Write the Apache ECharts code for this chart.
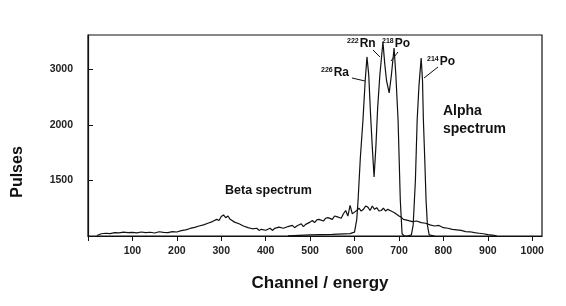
<!DOCTYPE html>
<html><head><meta charset="utf-8">
<script src="https://cdn.jsdelivr.net/npm/echarts@6/dist/echarts.min.js"></script>
<style>html,body{margin:0;padding:0;background:#fff}#c{width:566px;height:306px}</style>
</head><body><div id="c"></div>
<script>
// ---- data (pulses vs channel) ----
const betaChannels = [20,30,40,50,60,70,80,90,100,110,120,130,140,150,160,170,180,190,200,210,220,230,240,250,260,270,280,290,295,300,305,310,315,320,330,340,350,360,370,380,385,390,400,410,415,420,430,440,450,460,465,470,480,485,490,500,505,510,515,520,530,535,540,550,555,560,570,575,580,585,590,595,600,605,610,615,620,625,630,635,640,645,650,655,660,665,670,675,680,690,700,705,710,720,730,740,750,760,770,780,790,800,810,820,830,840,850,860,870,880,890,900,910,920];
const betaPulses   = [1005,1020,1025,1022,1030,1028,1035,1030,1032,1028,1036,1030,1034,1027,1038,1032,1030,1040,1036,1048,1055,1068,1078,1090,1100,1115,1130,1150,1140,1175,1190,1165,1180,1150,1125,1110,1090,1075,1065,1070,1050,1060,1052,1070,1050,1068,1080,1070,1085,1095,1075,1090,1110,1085,1105,1125,1140,1120,1145,1150,1135,1160,1165,1150,1180,1175,1160,1200,1230,1180,1275,1200,1215,1230,1250,1225,1240,1270,1260,1230,1270,1240,1255,1225,1230,1250,1225,1240,1230,1210,1180,1170,1150,1140,1130,1135,1120,1115,1100,1090,1095,1075,1070,1060,1055,1050,1040,1038,1030,1025,1020,1012,1008,1002];

const alphaChannels = [450,500,550,590,600,605,608,613,619,624,628,632,636,640,644,648,652,657,664,668,672,678,683,689,693,698,703,707,712,720,728,732,737,741,745,750,753,755,758,761,764,768,780];
const alphaPulses   = [1002,1010,1015,1022,1035,1150,1324,1700,2090,2800,3225,2900,2200,1800,1532,1800,2300,2900,3495,3100,2800,2577,2900,3387,2900,2090,1324,1020,1000,1000,1010,1100,1500,2090,2700,3207,2800,2090,1700,1324,1100,1010,1000];

// y axis: uneven tick labels placed at equal spacing
const yTickValues = [1000,1500,2000,3000];
const yTickLabels = ['', '1500', '2000', '3000'];
const xTickLabels = ['100','200','300','400','500','600','700','800','900','1000'];

const peakLabels = [
  {sup:'226', el:'Ra'}, {sup:'222', el:'Rn'}, {sup:'218', el:'Po'}, {sup:'214', el:'Po'}
];

// piecewise map pulses -> equally spaced axis units
function toUnit(v){
  for (let i=0;i<yTickValues.length-1;i++){
    const a=yTickValues[i], b=yTickValues[i+1];
    if (v<=b || i===yTickValues.length-2){
      return i + (v-a)/(b-a);
    }
  }
}
const beta = betaChannels.map((c,i)=>[c, toUnit(betaPulses[i])]);
const alpha = alphaChannels.map((c,i)=>[c, toUnit(alphaPulses[i])]);

const chart = echarts.init(document.getElementById('c'));
const FONT = 'Liberation Sans';
const txt = (x,y,text,size,extra)=>Object.assign({type:'text',x:x,y:y,style:Object.assign({text:text,fill:'#111',font:'bold '+size+'px "'+FONT+'"'},extra||{})});
function peakText(x,y,p){
  return {type:'text',x:x,y:y,style:{
    text:'{s|'+p.sup+'}{e|'+p.el+'}', rich:{
      s:{fontSize:7,fontWeight:'bold',fontFamily:FONT,fill:'#111',verticalAlign:'top',padding:[0,1,5,0]},
      e:{fontSize:12,fontWeight:'bold',fontFamily:FONT,fill:'#111'}
    }}};
}
const leader=(x1,y1,x2,y2)=>({type:'line',shape:{x1,y1,x2,y2},style:{stroke:'#111',lineWidth:1}});

chart.setOption({
  animation:false,
  backgroundColor:'#fff',
  grid:{left:88,right:24,top:35,bottom:70,show:true,borderColor:'#111',borderWidth:1.2,backgroundColor:'transparent'},
  xAxis:{type:'value',min:0,max:1022,interval:100,
    axisLine:{lineStyle:{color:'#111',width:1.2}},
    axisTick:{show:true,length:5,inside:false,lineStyle:{color:'#111'}},
    axisLabel:{margin:10,color:'#222',fontSize:10.5,fontWeight:'bold',fontFamily:FONT,
      showMaxLabel:false,
      formatter:v=>{const i=Math.round(v/100)-1;return (i>=0&&i<xTickLabels.length&&v%100===0)?xTickLabels[i]:'';}},
    splitLine:{show:false}},
  yAxis:{type:'value',min:0,max:3.62,interval:1,
    axisLine:{show:true,lineStyle:{color:'#111',width:1.2}},
    axisTick:{show:true,inside:true,length:5,lineStyle:{color:'#111'}},
    axisLabel:{margin:15,color:'#222',fontSize:10.5,fontWeight:'bold',fontFamily:FONT,showMaxLabel:false,
      formatter:v=>{const i=Math.round(v);return (Math.abs(v-i)<1e-6&&i<yTickLabels.length)?yTickLabels[i]:'';}},
    splitLine:{show:false}},
  series:[
    {type:'line',data:beta,showSymbol:false,lineStyle:{color:'#111',width:1.2},z:3},
    {type:'line',data:alpha,showSymbol:false,lineStyle:{color:'#111',width:1.2},z:4}
  ],
  graphic:[
    txt(320,283,'Channel / energy',17,{textAlign:'center',textVerticalAlign:'middle'}),
    {type:'text',x:18,y:172,rotation:Math.PI/2,style:{text:'Pulses',fill:'#111',font:'bold 16px "'+FONT+'"',textAlign:'center',textVerticalAlign:'middle'}},
    txt(225,184,'Beta spectrum',12.5,{}),
    txt(443,104,'Alpha',14,{}),
    txt(443,122,'spectrum',14,{}),
    peakText(321,67,peakLabels[0]),
    peakText(347,38,peakLabels[1]),
    peakText(382,38,peakLabels[2]),
    peakText(427,56,peakLabels[3]),
    leader(352,78,365,81),
    leader(373,50,380,57),
    leader(398,52,391,61),
    leader(438,67,424,78)
  ]
});
</script></body></html>
